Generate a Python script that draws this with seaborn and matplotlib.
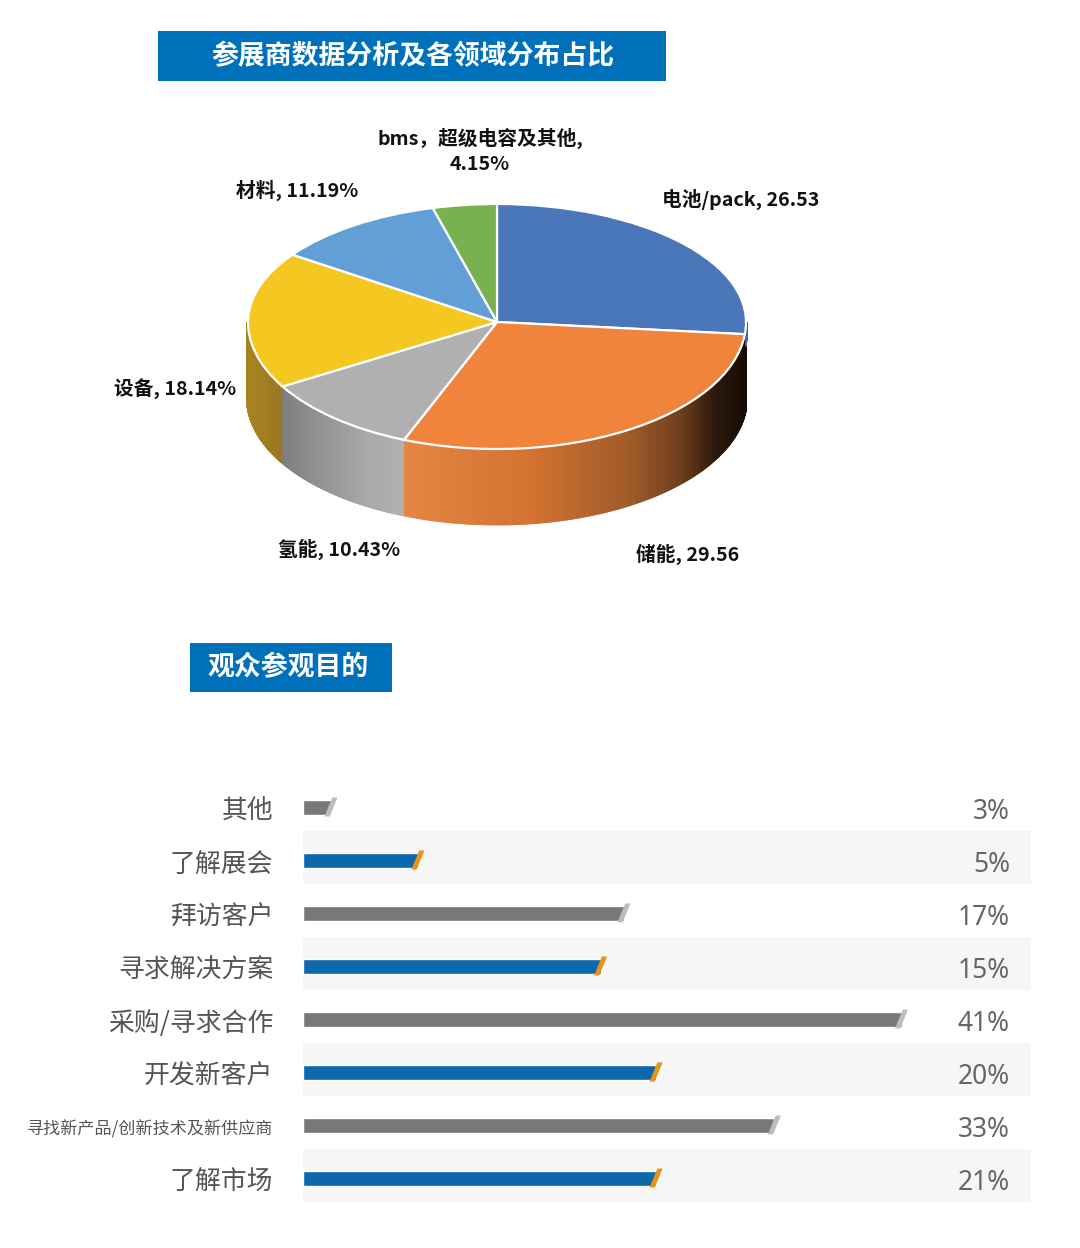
import numpy as np
import pandas as pd
import matplotlib
matplotlib.use("Agg")
import matplotlib.pyplot as plt
from matplotlib.colors import LinearSegmentedColormap
from matplotlib.collections import PolyCollection
from matplotlib.patches import Polygon, Rectangle
import seaborn as sns

pie_names = ["电池/pack", "储能", "氢能", "设备", "材料", "bms，超级电容及其他"]
pie_values = [26.53, 29.56, 10.43, 18.14, 11.19, 4.15]
pie_colors = ["#4A76BA", "#F0843D", "#B0B0B0", "#F4C821", "#629FD6", "#78B24F"]

categories = ["其他", "了解展会", "拜访客户", "寻求解决方案", "采购/寻求合作",
              "开发新客户", "寻找新产品/创新技术及新供应商", "了解市场"]
value_labels = ["3%", "5%", "17%", "15%", "41%", "20%", "33%", "21%"]
# drawn lengths (the source bars do not follow their labels)
bar_lengths = [1.95, 7.9, 22.0, 20.4, 41.0, 24.2, 32.3, 24.2]

W, H = 1080, 1248
sns.set_theme(style="white")
plt.rcParams["font.family"] = ["Noto Sans CJK SC", "DejaVu Sans"]

fig = plt.figure(figsize=(W / 100, H / 100), dpi=100, facecolor="white")


def px_axes(x0, y0, x1, y1, **kw):
    return fig.add_axes([x0 / W, 1 - y1 / H, (x1 - x0) / W, (y1 - y0) / H], **kw)


# page overlay: title boxes and pie labels, in pixel coordinates
page = px_axes(0, 0, W, H)
page.set_xlim(0, W)
page.set_ylim(H, 0)
page.axis("off")
page.set_zorder(5)
page.patch.set_alpha(0)
for (x0, y0, x1, y1, tx, txt) in [(158, 31, 666, 80.5, 413, "参展商数据分析及各领域分布占比"),
                                  (190, 643, 392, 692, 288.5, "观众参观目的")]:
    page.add_patch(Rectangle((x0, y0), x1 - x0, y1 - y0, color="#0070BA", lw=0))
    page.text(tx, (y0 + y1) / 2, txt, color="white",
              fontsize=19.4, fontweight="bold", ha="center", va="center")

lab = dict(color="#111111", fontsize=14.2, fontweight="bold", ha="center", va="center")
page.text(741, 199.5, f"{pie_names[0]}, {pie_values[0]:.2f}", **lab)
page.text(688, 554.5, f"{pie_names[1]}, {pie_values[1]:.2f}", **lab)
page.text(339, 549.5, f"{pie_names[2]}, {pie_values[2]:.2f}%", **lab)
page.text(175, 388.5, f"{pie_names[3]}, {pie_values[3]:.2f}%", **lab)
page.text(297, 190.5, f"{pie_names[4]}, {pie_values[4]:.2f}%", **lab)
page.text(480, 151, f"{pie_names[5]},\n{pie_values[5]:.2f}%", linespacing=1.4, **lab)

# pie, squashed, with slightly different top/bottom radii to mimic the perspective
TOP, BOT, DEPTH = 118.0, 127.0, 76.0
axp = px_axes(248, 204, 746, 449 + DEPTH)
axp.pie(pie_values, colors=pie_colors, startangle=90, counterclock=False,
        wedgeprops=dict(edgecolor="white", linewidth=1.6, zorder=3))
axp.set_yscale("function", functions=(
    lambda y: np.where(np.asarray(y) > 0, np.asarray(y) * TOP, np.asarray(y) * BOT),
    lambda v: np.where(np.asarray(v) > 0, np.asarray(v) / TOP, np.asarray(v) / BOT)))
axp.set_aspect("auto")
axp.set_xlim(-1, 1)
axp.set_ylim(-1 - DEPTH / BOT, 1)
axp.axis("off")

# extruded side wall, following the slice angles
edges = 90 - np.cumsum([0] + pie_values) * 3.6
wall_ramps = {
    1: [(0, "#E58543"), (0.37, "#D4722F"), (0.66, "#A05A28"), (0.81, "#6D3D1C"),
        (0.91, "#2C1A0C"), (1, "#150B05")],
    2: [(0, "#7D7D7D"), (0.35, "#959595"), (0.7, "#A8A8A8"), (1, "#B2B2B2")],
    3: [(0, "#A98520"), (1, "#9C7622")],
    0: [(0, "#3F66A0"), (1, "#3F66A0")],  # thin blue rim, drawn last
}
wall_colors = []
wall_polys = []
for idx, ramp in wall_ramps.items():
    cmap = LinearSegmentedColormap.from_list(f"w{idx}", ramp)
    a0, a1 = edges[idx + 1], edges[idx]
    a0 = max(a0, -180)
    a1 = min(a1, 0)
    if idx == 0:
        a0 = edges[1] - 1
    ts = np.radians(np.linspace(a0, a1, 260 if idx else 12))
    xs = np.cos(ts)
    span = xs.max() - xs.min()
    wx = 1.006
    depth = 0.08 if idx == 0 else DEPTH / BOT
    for k in range(len(ts) - 1):
        t0, t1 = ts[k], ts[k + 1]
        wall_polys.append([(wx * np.cos(t0), np.sin(t0)), (wx * np.cos(t1), np.sin(t1)),
                           (wx * np.cos(t1), np.sin(t1) - depth), (wx * np.cos(t0), np.sin(t0) - depth)])
        wall_colors.append(cmap((np.cos(t0) - xs.min()) / span))
axp.add_collection(PolyCollection(wall_polys, facecolors=wall_colors, edgecolors=wall_colors,
                                  linewidths=0.6, zorder=1, clip_on=False))

# bars
PX = 14.61
axb = px_axes(302.5, 780.5, 1031, 1204.5)
df = pd.DataFrame({"category": categories, "length": bar_lengths})
bar_palette = ["#787878" if i % 2 == 0 else "#0C67AB" for i in range(len(categories))]
cap_palette = ["#BDBDBD" if i % 2 == 0 else "#E8921A" for i in range(len(categories))]
sns.barplot(data=df, y="category", x="length", hue="category", palette=bar_palette,
            order=categories, hue_order=categories, width=15 / 53, legend=False,
            saturation=1, ax=axb, zorder=2)
axb.set_xlim(0, 728.5 / PX)
axb.set_ylim(7.5, -0.5)
for s in axb.spines.values():
    s.set_visible(False)
axb.set_xlabel("")
axb.set_ylabel("")
axb.set_xticks([])
axb.set_yticklabels([])
axb.tick_params(axis="y", length=0)
for i in range(1, len(categories), 2):
    axb.axhspan(i - 0.55, i + 0.46, color="#F6F6F6", lw=0, zorder=0)
for i, v in enumerate(bar_lengths):
    hh = 9.5 / 53
    a, b = 6.5 / PX, 2.6 / PX
    axb.add_patch(Polygon([(v - a, i + hh), (v - a + 2 * b, i + hh),
                           (v + a, i - hh), (v + a - 2 * b, i - hh)],
                          closed=True, facecolor=cap_palette[i], lw=0, zorder=3))
    axb.text(707.5 / 728.5, i + 0.09, value_labels[i], transform=axb.get_yaxis_transform(),
             ha="right", va="center", fontsize=19, color="#666666", family="Noto Sans")
    # category labels, right aligned just left of the bars
    axb.text(-29 / 728.5, i + 0.08, categories[i], transform=axb.get_yaxis_transform(),
             ha="right", va="center", color="#555555",
             fontsize=12.3 if len(categories[i]) > 10 else 18.6)

fig.savefig("out.png", dpi=100, facecolor="white")
